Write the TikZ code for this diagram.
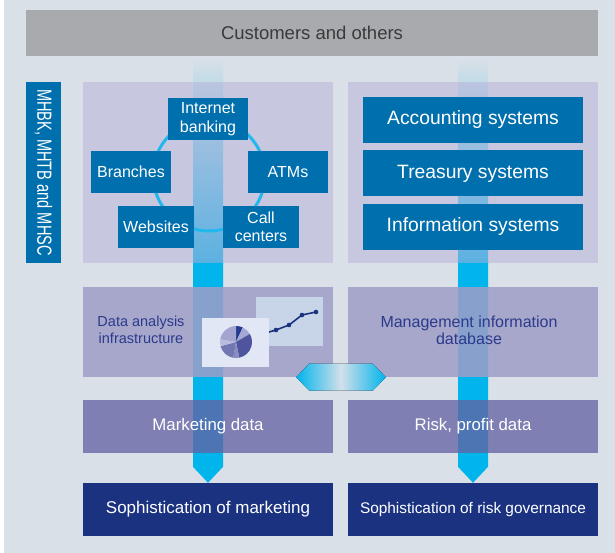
\documentclass[tikz,border=0pt]{standalone}
\usepackage{fontspec}
\setmainfont{Liberation Sans}
\setsansfont{Liberation Sans}
\usepackage{tikz}
\usetikzlibrary{shapes, arrows.meta, positioning, backgrounds, fit, calc}

% 配色
\definecolor{bgBlue}{HTML}{D9E0E8}
\definecolor{barGray}{HTML}{A9AAAE}
\definecolor{textGray}{HTML}{3A3A3C}
\definecolor{boxBlue}{HTML}{006FAD}
\definecolor{navyBlue}{HTML}{1B3281}
\definecolor{flowCyan}{HTML}{00B4EC}
\definecolor{ringCyan}{HTML}{22B8EE}
\definecolor{panelUp}{HTML}{B7B0D8}
\definecolor{panelMid}{HTML}{9F9EC7}
\definecolor{panelData}{HTML}{6563A4}
\definecolor{inkBlue}{HTML}{2B3A8C}
\definecolor{chartBg}{HTML}{C8D5E8}
\definecolor{pieBg}{HTML}{E1E7F5}
\definecolor{linkMid}{HTML}{D3E0EA}
\definecolor{pieA}{HTML}{243A8E}
\definecolor{pieB}{HTML}{A5A8D4}
\definecolor{pieC}{HTML}{4E549E}
\definecolor{pieD}{HTML}{8A8CC0}
\definecolor{pieE}{HTML}{7276B2}
\definecolor{pieF}{HTML}{BABCDE}
\definecolor{pieG}{HTML}{A3A5D0}

\begin{document}
\begin{tikzpicture}[
    x=1pt, y=1pt,
    font=\sffamily,
    >=Stealth,
    % --- 样式定义 ---
    % 顶部灰色横条
    topbar/.style={fill=barGray, minimum width=572pt, minimum height=46pt, inner sep=0pt,
        text=textGray, font=\fontsize{18.5}{22}\selectfont},
    % 左侧竖排标签
    tagbox/.style={fill=boxBlue, minimum width=181pt, minimum height=35pt, inner sep=0pt,
        text=white, font=\fontsize{20.5}{24}\selectfont},
    % 各层底板:半透明,让箭头透出来
    panel/.style={minimum width=250pt, inner sep=0pt, text opacity=1},
    upper/.style={panel, fill=panelUp, fill opacity=0.5, minimum height=181pt},
    middle/.style={panel, fill=panelMid, fill opacity=0.85, minimum height=90pt},
    datarow/.style={panel, fill=panelData, fill opacity=0.77, minimum height=53pt,
        text=white, font=\fontsize{16.8}{20}\selectfont},
    result/.style={panel, fill=navyBlue, minimum height=53pt, text=white},
    % 渠道小方块
    chan/.style={fill=boxBlue, minimum width=80pt, minimum height=42pt, inner sep=0pt,
        align=center, text=white, font=\fontsize{16}{18.5}\selectfont},
    % 系统长条
    sysbox/.style={fill=boxBlue, minimum width=220pt, minimum height=46pt, inner sep=0pt,
        text=white, font=\fontsize{19.3}{22}\selectfont},
    infotext/.style={text=inkBlue, align=center},
    % 箭头
    flowfade/.style={top color=bgBlue, bottom color=flowCyan},
    flow/.style={fill=flowCyan},
    link/.style={left color=flowCyan, right color=flowCyan, middle color=linkMid},
    ring/.style={draw=ringCyan, line width=3pt}
]

\useasboundingbox (0,0) rectangle (615,-553);

% ==================== 1. 顶部与左侧标签 ====================
\node[topbar] (Cust) at (312,-33) {Customers and others};
\node[tagbox, rotate=-90] (Group) at (43.5,-172.5) {\scalebox{0.71}[1]{MHBK, MHTB and MHSC}};

% ==================== 2. 四层底板 ====================
\node[upper] (ChanPanel) at (208,-172.5) {};
\node[upper] (SysPanel)  at (473,-172.5) {};
\node[middle] (AnaPanel) at (208,-332) {};
\node[middle] (MisPanel) at (473,-332) {};
\node[datarow] (MktData)  at (208,-426.5) {Marketing data};
\node[datarow] (RiskData) at (473,-426.5) {Risk, profit data};
\node[result, font=\fontsize{17}{20}\selectfont] (MktOut)  at (208,-509.5) {Sophistication of marketing};
\node[result, font=\fontsize{15.4}{20}\selectfont] (RiskOut) at (473,-509.5) {Sophistication of risk governance};

% ==================== 3. 渠道环 ====================
\coordinate (Hub) at (209,-175);
\draw[ring] (Hub) circle[radius=56];

\node[chan] (Net)    at (208,-119) {Internet\\banking};
\node[chan] (Branch) at (131,-172) {Branches};
\node[chan] (ATM)    at (288,-172) {ATMs};
\node[chan, minimum width=76pt] (Web)  at (156,-227) {Websites};
\node[chan, minimum width=76pt] (Call) at (261,-227) {Call\\centers};

% 右侧三套系统,上下排列
\node[sysbox] (Acc) at (473,-120) {Accounting systems};
\node[sysbox, below=7pt of Acc] (Trs) {Treasury systems};
\node[sysbox, below=7pt of Trs] (Inf) {Information systems};

% ==================== 4. 分析层 ====================
\node[infotext, font=\fontsize{14.5}{16.6}\selectfont] (AnaLbl) at ($(AnaPanel.center)+(-67,2)$) {Data analysis\\infrastructure};
\node[infotext, font=\fontsize{16}{17}\selectfont] (MisLbl) at ($(MisPanel.center)+(-4,2)$) {Management information\\database};

% 折线图
\node[fill=chartBg, minimum width=67pt, minimum height=49pt, inner sep=0pt] (Chart) at (289.5,-321.5) {};
\draw[navyBlue, line width=1.6pt] (262,-334) -- (276,-330) -- (289,-325) -- (302,-315) -- (316,-312);
\foreach \p in {(276,-330), (289,-325), (302,-315), (316,-312)}
    \fill[navyBlue] \p circle[radius=2.3];

% 饼图
\node[fill=pieBg, minimum width=67pt, minimum height=49pt, inner sep=0pt] (Pie) at (235.5,-342.5) {};
\coordinate (PieC) at (236,-342);
\foreach \a/\b/\c in {65/90/pieA, 30/65/pieB, -78/30/pieC, -100/-78/pieD,
                      -165/-100/pieE, -190/-165/pieF, -270/-190/pieG}
    \fill[\c] (PieC) -- ++(\a:16) arc[start angle=\a, end angle=\b, radius=16] -- cycle;

% 左右双向箭头
\fill[link] ($(AnaPanel.south east)+(-37,0)$) -- ++(13,13.5) -- ($(MisPanel.south west)+(25,13.5)$)
    -- ($(MisPanel.south west)+(38,0)$) -- ++(-13,-13.5) -- ($(AnaPanel.south east)+(-24,-13.5)$) -- cycle;

% ==================== 5. 背景与竖向大箭头 ====================
\begin{scope}[on background layer]
    \fill[bgBlue] (4,0) rectangle (615,-553);
    % 左列
    \fill[flowfade] ($(Cust.south -| ChanPanel.south)+(-15,-3)$) rectangle ($(ChanPanel.south)+(15,0)$);
    \fill[flow] ($(ChanPanel.south)+(-15,0.5)$) -- ($(MktOut.north)+(-15,16)$) -- (MktOut.north)
        -- ($(MktOut.north)+(15,16)$) -- ($(ChanPanel.south)+(15,0.5)$) -- cycle;
    % 右列
    \fill[flowfade] ($(Cust.south -| SysPanel.south)+(-15,-3)$) rectangle ($(SysPanel.south)+(15,0)$);
    \fill[flow] ($(SysPanel.south)+(-15,0.5)$) -- ($(RiskOut.north)+(-15,16)$) -- (RiskOut.north)
        -- ($(RiskOut.north)+(15,16)$) -- ($(SysPanel.south)+(15,0.5)$) -- cycle;
\end{scope}

\end{tikzpicture}
\end{document}
